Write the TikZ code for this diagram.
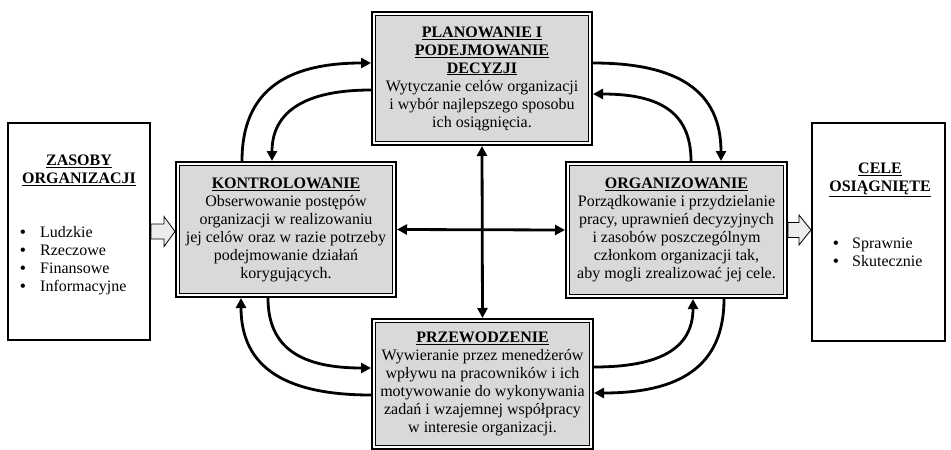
\documentclass[tikz,border=0pt]{standalone}
\usepackage{fontspec}
\setmainfont{Liberation Serif}
\usetikzlibrary{arrows.meta,calc}
\definecolor{boxgray}{RGB}{217,217,217}
\definecolor{arrowgray}{RGB}{236,236,236}
\newcommand\bul[1]{\makebox[#1][l]{\textbf{\textbullet}}}
\begin{document}
\begin{tikzpicture}[x=1pt,y=-1pt,
  txt/.style={font=\fontsize{16}{18}\selectfont, align=center, inner sep=0pt},
  actbox/.style={txt, draw, line width=2pt, fill=white,
    path picture={\draw[line width=0.9pt, fill=boxgray]
      ([shift={(3.5pt,-3.5pt)}]path picture bounding box.north west) rectangle
      ([shift={(-3.5pt,3.5pt)}]path picture bounding box.south east);}},
  sidebox/.style={draw, line width=2pt, fill=white, inner sep=0pt},
  flow/.style={line width=2.8pt, -{Triangle[length=10pt,width=10pt]}},
  cross/.style={line width=2.8pt,
    {Triangle[length=10pt,width=10pt]}-{Triangle[length=10pt,width=10pt]}},
  hollow/.style={draw, line width=0.8pt, fill=arrowgray, line join=miter},
  head/.style={txt, font=\fontsize{16}{18}\selectfont\bfseries},
  list/.style={txt, align=left, anchor=west},
]
\fill[white] (0,0) rectangle (951,450);
\useasboundingbox (0,0) rectangle (951,450);

% side boxes
\node[sidebox, minimum width=142pt, minimum height=217pt] (zas) at (79,231.5) {};
\node[head] (zast) at (79,170) {\underline{ZASOBY}\\\underline{ORGANIZACJI}};
\node[list] (zasl) at (20,260.5) {%
  \bul{20pt}Ludzkie\\
  \bul{20pt}Rzeczowe\\
  \bul{20pt}Finansowe\\
  \bul{20pt}Informacyjne};

\node[sidebox, minimum width=133pt, minimum height=218pt] (cel) at (878.5,232) {};
\node[head] (celt) at (880,180) {\underline{CELE}\\\underline{OSIĄGNIĘTE}};
\node[list] (cell) at (833,252.5) {%
  \bul{19pt}Sprawnie\\
  \bul{19pt}Skutecznie};

% management functions
\node[actbox, minimum width=220pt, minimum height=133pt] (top) at (482,78.5)
  {\underline{\textbf{PLANOWANIE I}}\\\underline{\textbf{PODEJMOWANIE}}\\
   \underline{\textbf{DECYZJI}}\\Wytyczanie celów organizacji\\
   i wybór najlepszego sposobu\\ich osiągnięcia.};
\node[actbox, minimum width=220pt, minimum height=135pt] (kon) at (286,229.5)
  {\underline{\textbf{KONTROLOWANIE}}\\Obserwowanie postępów\\
   organizacji w realizowaniu\\jej celów oraz w razie potrzeby\\
   podejmowanie działań\\korygujących.};
\node[actbox, minimum width=221pt, minimum height=136pt] (org) at (676.5,230)
  {\underline{\textbf{ORGANIZOWANIE}}\\Porządkowanie i przydzielanie\\
   pracy, uprawnień decyzyjnych\\i zasobów poszczególnym\\
   członkom organizacji tak,\\aby mogli zrealizować jej cele.};
\node[actbox, minimum width=221pt, minimum height=130pt] (prz) at (482.5,384)
  {\underline{\textbf{PRZEWODZENIE}}\\Wywieranie przez menedżerów\\
   wpływu na pracowników i ich\\motywowanie do wykonywania\\
   zadań i wzajemnej współpracy\\w interesie organizacji.};

% inputs and outputs
\draw[hollow] ($(zas.east)+(0,-7.5)$) -- ++(13,0) -- ++(0,-7.5)
  -- (kon.west |- zas.east) -- ($(zas.east)+(13,15)$) -- ++(0,-7.5)
  -- ($(zas.east)+(0,7.5)$) -- cycle;
\draw[hollow] ($(org.east)+(0,-7.5)$) -- ++(11,0) -- ++(0,-7.5)
  -- (cel.west |- org.east) -- ($(org.east)+(11,15)$) -- ++(0,-7.5)
  -- ($(org.east)+(0,7.5)$) -- cycle;

% links through the centre
\draw[cross] (top.south) -- (prz.north);
\draw[cross] (kon.east) -- (org.west);

% feedback loops
\draw[flow] ($(kon.north)+(-44,0)$) .. controls +(0,-70) and +(-85,0) .. ($(top.west)+(0,-15.5)$);
\draw[flow] ($(top.west)+(0,11.5)$) .. controls +(-65,0) and +(0,-50) .. ($(kon.north)+(-14,0)$);
\draw[flow] ($(top.east)+(0,-15.5)$) .. controls +(85,0) and +(0,-70) .. ($(org.north)+(44.5,0)$);
\draw[flow] ($(org.north)+(14.5,0)$) .. controls +(0,-50) and +(65,0) .. ($(top.east)+(0,15.5)$);
\draw[flow] ($(prz.west)+(0,11)$) .. controls +(-85,0) and +(0,70) .. ($(kon.south)+(-45,0)$);
\draw[flow] ($(kon.south)+(-18,0)$) .. controls +(0,50) and +(-70,0) .. ($(prz.west)+(0,-16)$);
\draw[flow] ($(prz.east)+(0,-17)$) .. controls +(65,0) and +(0,50) .. ($(org.south)+(16.5,0)$);
\draw[flow] ($(org.south)+(47.5,0)$) .. controls +(0,68) and +(85,0) .. ($(prz.east)+(0,9)$);
\end{tikzpicture}
\end{document}
